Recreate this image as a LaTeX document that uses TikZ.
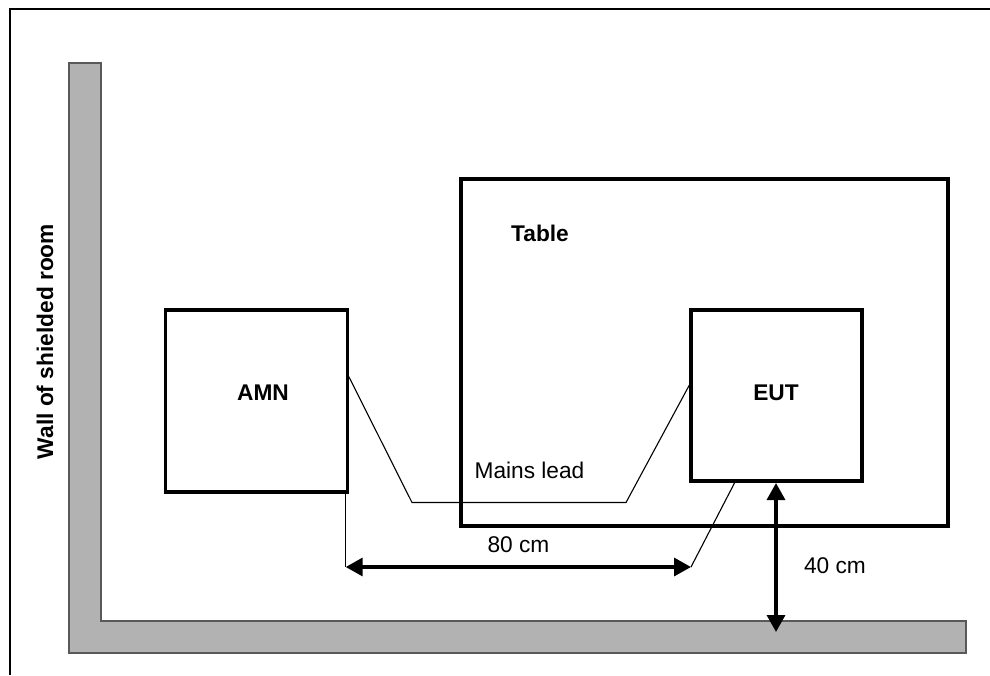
\documentclass[tikz,border=0pt]{standalone}
\usepackage{fontspec}
\setmainfont{Liberation Sans}
\usetikzlibrary{arrows.meta}
\tikzset{
  x=1pt,y=-1pt,
  box/.style={draw=black,line width=3.8pt,fill=none,minimum width=#1,inner sep=0pt,outer sep=0pt,anchor=north west},
  thin line/.style={draw=black,line width=1.1pt},
  dim/.style={draw=black,line width=3.3pt,{Triangle[length=17pt,width=18pt]}-{Triangle[length=17pt,width=18pt]}},
  lab/.style={font=\fontsize{22.7}{26}\selectfont,inner sep=0pt},
  blab/.style={font=\fontsize{22.7}{26}\selectfont\bfseries,inner sep=0pt},
}
\begin{document}
\begin{tikzpicture}
\useasboundingbox (0,0) rectangle (990,675);
\fill[white] (0,0) rectangle (990,675);
\coordinate (fb) at (10,675);
\coordinate (ftl) at (10,9);
\coordinate (ftr) at (990,9);
\draw[black,line width=1.3pt] (fb) -- (ftl) -- (ftr);
% wall
\draw[fill=black!30,draw=black!65,line width=1.5pt]
  (69,63) -- (101,63) -- (101,621) -- (966,621) -- (966,653) -- (69,653) -- cycle;
\node[blab,rotate=90] (wall) at (45,341.5) {Wall of shielded room};
% boxes
\node[box=487pt,minimum height=347pt] (table) at (461,179) {};
\node[box=171pt,minimum height=171pt] (eut) at (691,310) {};
\node[box=182pt,minimum height=182pt] (amn) at (165.5,310) {};
\node[blab] (tlab) at (540,233) {Table};
\node[blab] (alab) at (263,393) {AMN};
\node[blab] (elab) at (776,393) {EUT};
\node[lab] (mlab) at (529.5,470) {Mains lead};
\node[lab] (d80) at (518.5,545) {80 cm};
\node[lab] (d40) at (835,566) {40 cm};
% mains lead
\coordinate (l1) at (412,502.5);
\coordinate (l2) at (626,502.5);
\draw[thin line] (amn.east |- 0,374) -- (l1) -- (l2) -- (eut.west |- 0,382);
% measurement lead
\coordinate (amnb) at (345.7,492);
\coordinate (m1) at (345.7,567);
\coordinate (m2) at (691,567);
\coordinate (eutb) at (735,482);
\draw[thin line] (amnb) -- (m1);
\draw[thin line] (m2) -- (eutb);
\draw[dim] (m1) -- (m2);
\coordinate (a1) at (776,483);
\coordinate (a2) at (776,632);
\draw[dim] (a1) -- (a2);
\end{tikzpicture}
\end{document}
